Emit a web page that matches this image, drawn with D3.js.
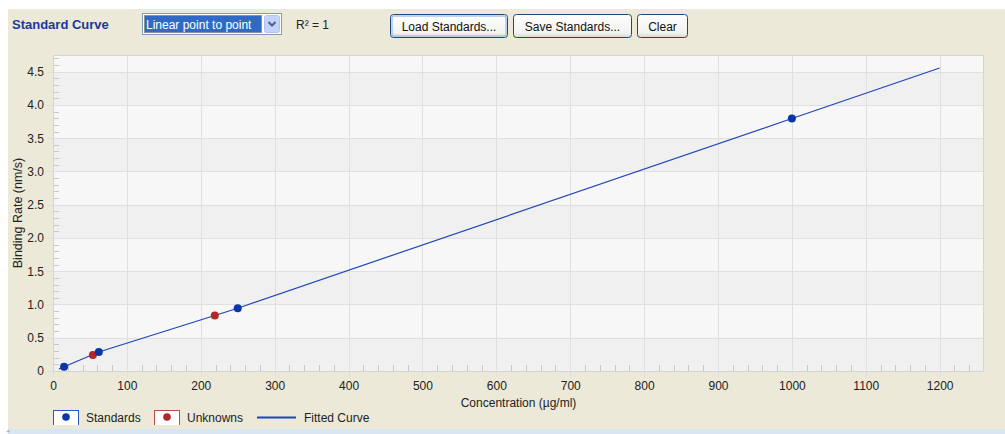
<!DOCTYPE html>
<html><head><meta charset="utf-8">
<script src="https://cdn.jsdelivr.net/npm/d3@7"></script>
<style>
html,body{margin:0;padding:0;background:#fff;}
svg{display:block;font-family:"Liberation Sans",Arial,sans-serif;}
</style></head>
<body><svg id="c" width="1005" height="434"></svg>
<script>
// ---- data ----
const standardsX = [15, 62, 250, 1000];
const standardsY = [0.065, 0.286, 0.944, 3.795];
const unknownsX = [54, 219];
const unknownsY = [0.24, 0.833];
const curveX = [8, 15, 62, 250, 1000, 1200];
const curveY = [0.031, 0.065, 0.286, 0.944, 3.795, 4.555];
const xTicks = [0,100,200,300,400,500,600,700,800,900,1000,1100,1200];
const yTicks = [0,0.5,1.0,1.5,2.0,2.5,3.0,3.5,4.0,4.5];
const yTickLabels = ["0","0.5","1.0","1.5","2.0","2.5","3.0","3.5","4.0","4.5"];
const legendLabels = ["Standards","Unknowns","Fitted Curve"];
const fitModes = ["Linear point to point"];
const rSquaredText = "R² = 1";
const buttonLabels = ["Load Standards...","Save Standards...","Clear"];

const svg = d3.select("#c");
const W = 1005, H = 434;
const plot = {l:53, t:55, r:984, b:371};
const blue = "#0b36a6", red = "#b3262a", lineBlue = "#1f44bd";

// background
svg.append("rect").attr("width",W).attr("height",H).attr("fill","#fff");
svg.append("rect").attr("x",8).attr("y",9).attr("width",W-8).attr("height",H-9).attr("fill","#ece9d8");
svg.append("rect").attr("x",8).attr("y",429).attr("width",W-8).attr("height",5).attr("fill","#d8e5f3");
svg.append("text").attr("x",6).attr("y",434).attr("font-size",7).attr("fill","#999").text("+");

// header
svg.append("text").attr("x",12).attr("y",29).attr("font-size",13).attr("font-weight","bold")
  .attr("fill","#1a3a9c").text("Standard Curve");
// dropdown
const dd = svg.append("g");
dd.append("rect").attr("x",142.5).attr("y",13.5).attr("width",139).attr("height",21).attr("fill","#fff").attr("stroke","#7f9db9");
dd.append("rect").attr("x",144).attr("y",15).attr("width",118).attr("height",18).attr("fill","#316ac5");
dd.append("rect").attr("x",144.5).attr("y",15.5).attr("width",117).attr("height",17).attr("fill","none").attr("stroke","#e0c060").attr("stroke-dasharray","1,1");
dd.append("text").attr("x",146).attr("y",28.5).attr("font-size",12).attr("fill","#fff").text(fitModes[0]);
dd.append("rect").attr("x",264.5).attr("y",15.5).attr("width",15).attr("height",17).attr("rx",2).attr("fill","#c3d3fd").attr("stroke","#b2c4ee");
dd.append("path").attr("d","M268.5,22 L272,25.5 L275.5,22").attr("fill","none").attr("stroke","#4d6185").attr("stroke-width",2);
svg.append("text").attr("x",296).attr("y",29).attr("font-size",12).attr("fill","#222").text(rSquaredText);

// buttons
const defs = svg.append("defs");
const grad = defs.append("linearGradient").attr("id","btn").attr("x1",0).attr("x2",0).attr("y1",0).attr("y2",1);
grad.append("stop").attr("offset","0%").attr("stop-color","#ffffff");
grad.append("stop").attr("offset","80%").attr("stop-color","#f2f2ee");
grad.append("stop").attr("offset","100%").attr("stop-color","#d8d6cc");
const btnX = [390, 513, 637], btnW = [117, 118, 50];
buttonLabels.forEach((t,i)=>{
  const g = svg.append("g");
  g.append("rect").attr("x",btnX[i]+0.5).attr("y",14.5).attr("width",btnW[i]).attr("height",23).attr("rx",3)
    .attr("fill","url(#btn)").attr("stroke","#1c4a7e");
  if(i===0){
    g.append("rect").attr("x",btnX[i]+2).attr("y",16).attr("width",btnW[i]-3).attr("height",20).attr("rx",2)
      .attr("fill","none").attr("stroke","#a9c3ef").attr("stroke-width",1.5);
  }
  g.append("text").attr("x",btnX[i]+btnW[i]/2+0.5).attr("y",30.5).attr("text-anchor","middle").attr("font-size",12)
    .attr("fill","#111").text(t);
});

// scales
const x = d3.scaleLinear().domain([0,1260]).range([plot.l,plot.r]);
const y = d3.scaleLinear().domain([0,4.75]).range([plot.b,plot.t]);

// plot bg bands
const bands = d3.range(0,4.75,0.5);
svg.append("rect").attr("x",plot.l).attr("y",plot.t).attr("width",plot.r-plot.l).attr("height",plot.b-plot.t).attr("fill","#f7f7f7");
svg.append("g").selectAll("rect").data(bands.filter((d,i)=>i%2===0)).join("rect")
  .attr("x",plot.l).attr("width",plot.r-plot.l)
  .attr("y",d=>y(Math.min(d+0.5,4.75))).attr("height",d=>y(d)-y(Math.min(d+0.5,4.75)))
  .attr("fill","#f0f0f0");

// gridlines
const grid = svg.append("g").attr("stroke","#e0e0e0").attr("stroke-width",1);
grid.selectAll(".gx").data(xTicks).join("line")
  .attr("x1",d=>Math.round(x(d))+0.5).attr("x2",d=>Math.round(x(d))+0.5)
  .attr("y1",plot.t).attr("y2",plot.b+6);
grid.selectAll(".gy").data(yTicks).join("line")
  .attr("y1",d=>Math.round(y(d))+0.5).attr("y2",d=>Math.round(y(d))+0.5)
  .attr("x1",plot.l-6).attr("x2",plot.r);

// minor ticks
const minor = svg.append("g").attr("stroke","#c8c8c8");
minor.selectAll(".mx").data(d3.range(20,1260,20).filter(v=>v%100!==0)).join("line")
  .attr("x1",d=>Math.round(x(d))+0.5).attr("x2",d=>Math.round(x(d))+0.5)
  .attr("y1",plot.b-6).attr("y2",plot.b);
minor.selectAll(".my").data(d3.range(1,48).filter(v=>v%5!==0).map(v=>v/10)).join("line")
  .attr("y1",d=>Math.round(y(d))+0.5).attr("y2",d=>Math.round(y(d))+0.5)
  .attr("x1",plot.l).attr("x2",plot.l+6);

// border
svg.append("rect").attr("x",plot.l+0.5).attr("y",plot.t+0.5).attr("width",plot.r-plot.l-1).attr("height",plot.b-plot.t)
  .attr("fill","none").attr("stroke","#d4d4d4");

// axes (labels via d3 axes)
const xAxis = svg.append("g").attr("transform",`translate(0,${plot.b})`)
  .call(d3.axisBottom(x).tickValues(xTicks).tickSize(0).tickPadding(10).tickFormat(d3.format("d")));
const yAxis = svg.append("g").attr("transform",`translate(${plot.l},0)`)
  .call(d3.axisLeft(y).tickValues(yTicks).tickSize(0).tickPadding(9).tickFormat((d,i)=>yTickLabels[i]));
[xAxis,yAxis].forEach(a=>{
  a.select(".domain").remove();
  a.selectAll("text").attr("font-size",12).attr("font-family","Liberation Sans, Arial, sans-serif").attr("fill","#222");
});

svg.append("text").attr("x",(plot.l+plot.r)/2).attr("y",407).attr("text-anchor","middle").attr("font-size",12)
  .attr("fill","#222").text("Concentration (µg/ml)");
svg.append("text").attr("transform",`translate(22,${(plot.t+plot.b)/2}) rotate(-90)`).attr("text-anchor","middle")
  .attr("font-size",12.5).attr("fill","#222").text("Binding Rate (nm/s)");

// fitted curve
const line = d3.line().x(d=>x(d[0])).y(d=>y(d[1]));
svg.append("path").datum(curveX.map((v,i)=>[v,curveY[i]])).attr("d",line)
  .attr("fill","none").attr("stroke",lineBlue).attr("stroke-width",1.2);

// points
svg.append("g").selectAll("circle").data(unknownsX.map((v,i)=>[v,unknownsY[i]])).join("circle")
  .attr("cx",d=>x(d[0])).attr("cy",d=>y(d[1])).attr("r",4).attr("fill",red);
svg.append("g").selectAll("circle").data(standardsX.map((v,i)=>[v,standardsY[i]])).join("circle")
  .attr("cx",d=>x(d[0])).attr("cy",d=>y(d[1])).attr("r",4).attr("fill",blue);

// legend (clipped at bottom)
defs.append("clipPath").attr("id","lg").append("rect").attr("x",0).attr("y",400).attr("width",W).attr("height",25);
const lg = svg.append("g").attr("clip-path","url(#lg)");
lg.append("rect").attr("x",53.5).attr("y",410.5).attr("width",25).attr("height",20).attr("fill","#fff").attr("stroke","#2a55c8");
lg.append("circle").attr("cx",66).attr("cy",417).attr("r",3.8).attr("fill",blue);
lg.append("text").attr("x",86).attr("y",422).attr("font-size",12).attr("fill","#222").text(legendLabels[0]);
lg.append("rect").attr("x",154.5).attr("y",410.5).attr("width",25).attr("height",20).attr("fill","#fff").attr("stroke","#c84848");
lg.append("circle").attr("cx",167).attr("cy",417).attr("r",3.8).attr("fill",red);
lg.append("text").attr("x",187).attr("y",422).attr("font-size",12).attr("fill","#222").text(legendLabels[1]);
lg.append("line").attr("x1",257).attr("x2",296).attr("y1",417.5).attr("y2",417.5).attr("stroke",lineBlue).attr("stroke-width",2);
lg.append("text").attr("x",304).attr("y",422).attr("font-size",12).attr("fill","#222").text(legendLabels[2]);
</script></body></html>
